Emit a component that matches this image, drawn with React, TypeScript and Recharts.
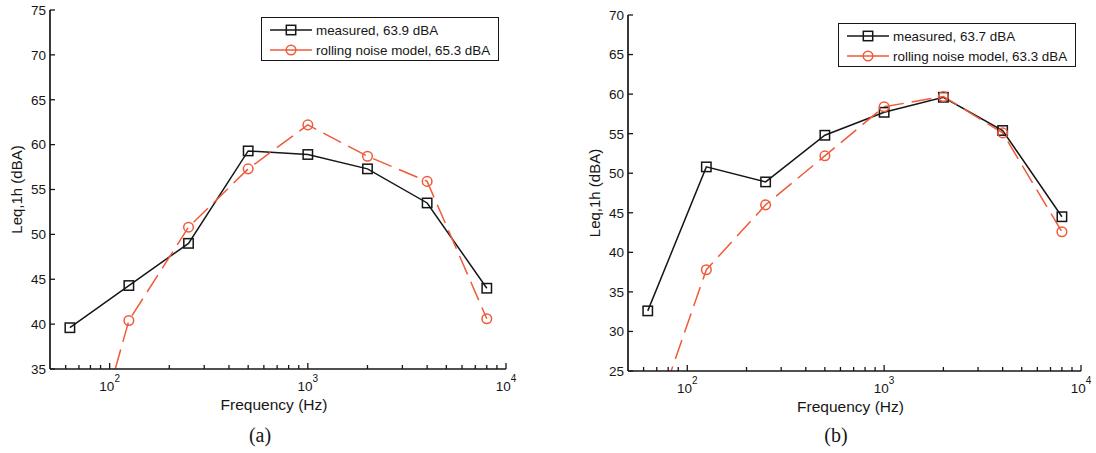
import React from 'react';
import { LineChart, Line, XAxis, YAxis } from 'recharts';

const FREQS = [63, 125, 250, 500, 1000, 2000, 4000, 8000];

const MEASURED_A = [39.6, 44.3, 49.0, 59.3, 58.9, 57.3, 53.5, 44.0];
const MODEL_A = [17.0, 40.4, 50.8, 57.3, 62.2, 58.7, 55.9, 40.6];

const MEASURED_B = [32.6, 50.8, 48.9, 54.8, 57.7, 59.6, 55.4, 44.5];
const MODEL_B = [16.5, 37.8, 46.0, 52.2, 58.4, 59.7, 55.1, 42.6];

const X_TICKS = [60, 70, 80, 90, 100, 200, 300, 400, 500, 600, 700, 800, 900, 1000, 2000, 3000, 4000, 5000, 6000, 7000, 8000, 9000, 10000];
const Y_TICKS_A = [35, 40, 45, 50, 55, 60, 65, 70, 75];
const Y_TICKS_B = [25, 30, 35, 40, 45, 50, 55, 60, 65, 70];

const LEGEND_A = ['measured, 63.9 dBA', 'rolling noise model, 65.3 dBA'];
const LEGEND_B = ['measured, 63.7 dBA', 'rolling noise model, 63.3 dBA'];

const FONT = '"Liberation Sans", Arial, sans-serif';
const BLACK = '#161616';
const RED = '#f05a3a';

const isMajor = (v: number) => Math.abs(Math.log10(v) - Math.round(Math.log10(v))) < 1e-9;

const BottomTick = (props: any) => {
  const { x, y, payload } = props;
  const v = payload.value;
  const major = isMajor(v);
  return (
    <g>
      <line x1={x} y1={y} x2={x} y2={y - (major ? 6 : 4)} stroke={BLACK} strokeWidth={1.3} />
      {major && (
        <text x={x} y={y + 22} textAnchor="middle" fontSize={13.5} fontFamily={FONT} fill={BLACK}>
          10<tspan dy={-9} fontSize={10}>{Math.round(Math.log10(v))}</tspan>
        </text>
      )}
    </g>
  );
};

const TopTick = (props: any) => {
  const { x, y, payload } = props;
  const major = isMajor(payload.value);
  return <line x1={x} y1={y} x2={x} y2={y + (major ? 6 : 4)} stroke={BLACK} strokeWidth={1.3} />;
};

const LeftTick = (props: any) => {
  const { x, y, payload } = props;
  return (
    <g>
      <line x1={x} y1={y} x2={x + 5} y2={y} stroke={BLACK} strokeWidth={1.3} />
      <text x={x - 4} y={y} dy="0.36em" textAnchor="end" fontSize={13.5} fontFamily={FONT} fill={BLACK}>
        {payload.value}
      </text>
    </g>
  );
};

const RightTick = (props: any) => {
  const { x, y } = props;
  return <line x1={x} y1={y} x2={x - 5} y2={y} stroke={BLACK} strokeWidth={1.3} />;
};

const squareDot = (lo: number) => (props: any) => {
  const { cx, cy, index, value } = props;
  if (value < lo || cx == null || cy == null) return <g key={`s-${index}`} />;
  return <rect key={`s-${index}`} x={cx - 4.7} y={cy - 4.7} width={9.4} height={9.4} fill="none" stroke={BLACK} strokeWidth={1.5} />;
};

const circleDot = (lo: number) => (props: any) => {
  const { cx, cy, index, value } = props;
  if (value < lo || cx == null || cy == null) return <g key={`c-${index}`} />;
  return <circle key={`c-${index}`} cx={cx} cy={cy} r={4.8} fill="none" stroke={RED} strokeWidth={1.5} />;
};

const YLabel = (props: any) => {
  const { viewBox } = props;
  const cx = viewBox.x + viewBox.width - 33.5;
  const cy = viewBox.y + viewBox.height / 2;
  return (
    <text transform={`translate(${cx},${cy}) rotate(-90)`} textAnchor="middle" dy="0.36em" fontSize={15} fontFamily={FONT} fill={BLACK}>
      Leq,1h (dBA)
    </text>
  );
};

const XLabel = (props: any) => {
  const { viewBox } = props;
  const cx = viewBox.x + viewBox.width / 2 - 4;
  return (
    <text x={cx} y={viewBox.y + 41} textAnchor="middle" fontSize={15.5} fontFamily={FONT} fill={BLACK}>
      Frequency (Hz)
    </text>
  );
};

type PanelProps = {
  left: number;
  width: number;
  margin: { top: number; right: number; bottom: number; left: number };
  yWidth: number;
  yDomain: [number, number];
  yTicks: number[];
  measured: number[];
  model: number[];
};

const Panel = ({ left, width, margin, yWidth, yDomain, yTicks, measured, model }: PanelProps) => {
  const data = FREQS.map((f, i) => ({ f, measured: measured[i], model: model[i] }));
  const axisLine = { stroke: BLACK, strokeWidth: 1.7 };
  return (
    <div style={{ position: 'absolute', left, top: 0 }}>
      <LineChart width={width} height={453} data={data} margin={margin}>
        <XAxis
          xAxisId="b"
          dataKey="f"
          type="number"
          scale="log"
          domain={[50, 10000]}
          allowDataOverflow
          ticks={X_TICKS}
          interval={0}
          height={40}
          tickSize={0}
          tickMargin={0}
          tickLine={false}
          tick={<BottomTick />}
          axisLine={axisLine}
          label={<XLabel />}
        />
        <XAxis
          xAxisId="t"
          orientation="top"
          dataKey="f"
          type="number"
          scale="log"
          domain={[50, 10000]}
          allowDataOverflow
          ticks={X_TICKS}
          interval={0}
          height={0}
          tickSize={0}
          tickMargin={0}
          tickLine={false}
          tick={<TopTick />}
          axisLine={axisLine}
        />
        <YAxis
          yAxisId="l"
          domain={yDomain}
          allowDataOverflow
          ticks={yTicks}
          interval={0}
          width={yWidth}
          tickSize={0}
          tickMargin={0}
          tickLine={false}
          tick={<LeftTick />}
          axisLine={axisLine}
          label={<YLabel />}
        />
        <YAxis
          yAxisId="r"
          orientation="right"
          domain={yDomain}
          allowDataOverflow
          ticks={yTicks}
          interval={0}
          width={0}
          tickSize={0}
          tickMargin={0}
          tickLine={false}
          tick={<RightTick />}
          axisLine={axisLine}
        />
        <Line
          xAxisId="b"
          yAxisId="l"
          dataKey="measured"
          stroke={BLACK}
          strokeWidth={1.5}
          dot={squareDot(yDomain[0])}
          activeDot={false}
          isAnimationActive={false}
        />
        <Line
          xAxisId="b"
          yAxisId="l"
          dataKey="model"
          stroke={RED}
          strokeWidth={1.5}
          strokeDasharray="20 8"
          dot={circleDot(yDomain[0])}
          activeDot={false}
          isAnimationActive={false}
        />
      </LineChart>
    </div>
  );
};

const LegendBox = ({ left, top, labels }: { left: number; top: number; labels: string[] }) => (
  <div
    style={{
      position: 'absolute',
      left,
      top,
      width: 236,
      height: 42,
      border: `1.7px solid ${BLACK}`,
      background: '#fff',
      fontFamily: FONT,
      fontSize: 13.4,
      color: BLACK,
    }}
  >
    {labels.map((t, i) => (
      <div key={t} style={{ position: 'absolute', left: 8, top: 3 + i * 20, height: 18, display: 'flex', alignItems: 'center' }}>
        <svg width={44} height={18}>
          <line x1={0} y1={9} x2={42} y2={9} stroke={i === 0 ? BLACK : RED} strokeWidth={1.5} />
          {i === 0 ? (
            <rect x={16.3} y={4.3} width={9.4} height={9.4} fill="none" stroke={BLACK} strokeWidth={1.5} />
          ) : (
            <circle cx={21} cy={9} r={4.8} fill="none" stroke={RED} strokeWidth={1.5} />
          )}
        </svg>
        <span style={{ marginLeft: 2, whiteSpace: 'nowrap' }}>{t}</span>
      </div>
    ))}
  </div>
);

const Caption = ({ x, text }: { x: number; text: string }) => (
  <div
    style={{
      position: 'absolute',
      left: x - 30,
      width: 60,
      top: 424,
      textAlign: 'center',
      fontFamily: '"Liberation Serif", "Times New Roman", serif',
      fontSize: 20,
      color: BLACK,
    }}
  >
    {text}
  </div>
);

export default function App() {
  return (
    <div style={{ position: 'absolute', left: 0, top: 0, width: 1096, height: 453, background: '#fff' }}>
      <Panel
        left={0}
        width={540}
        margin={{ top: 10, right: 34, bottom: 44, left: 0 }}
        yWidth={50}
        yDomain={[35, 75]}
        yTicks={Y_TICKS_A}
        measured={MEASURED_A}
        model={MODEL_A}
      />
      <Panel
        left={560}
        width={536}
        margin={{ top: 15, right: 15, bottom: 42, left: 0 }}
        yWidth={68}
        yDomain={[25, 70]}
        yTicks={Y_TICKS_B}
        measured={MEASURED_B}
        model={MODEL_B}
      />
      <LegendBox left={261} top={17} labels={LEGEND_A} />
      <LegendBox left={838} top={23} labels={LEGEND_B} />
      <Caption x={260} text="(a)" />
      <Caption x={836} text="(b)" />
    </div>
  );
}
